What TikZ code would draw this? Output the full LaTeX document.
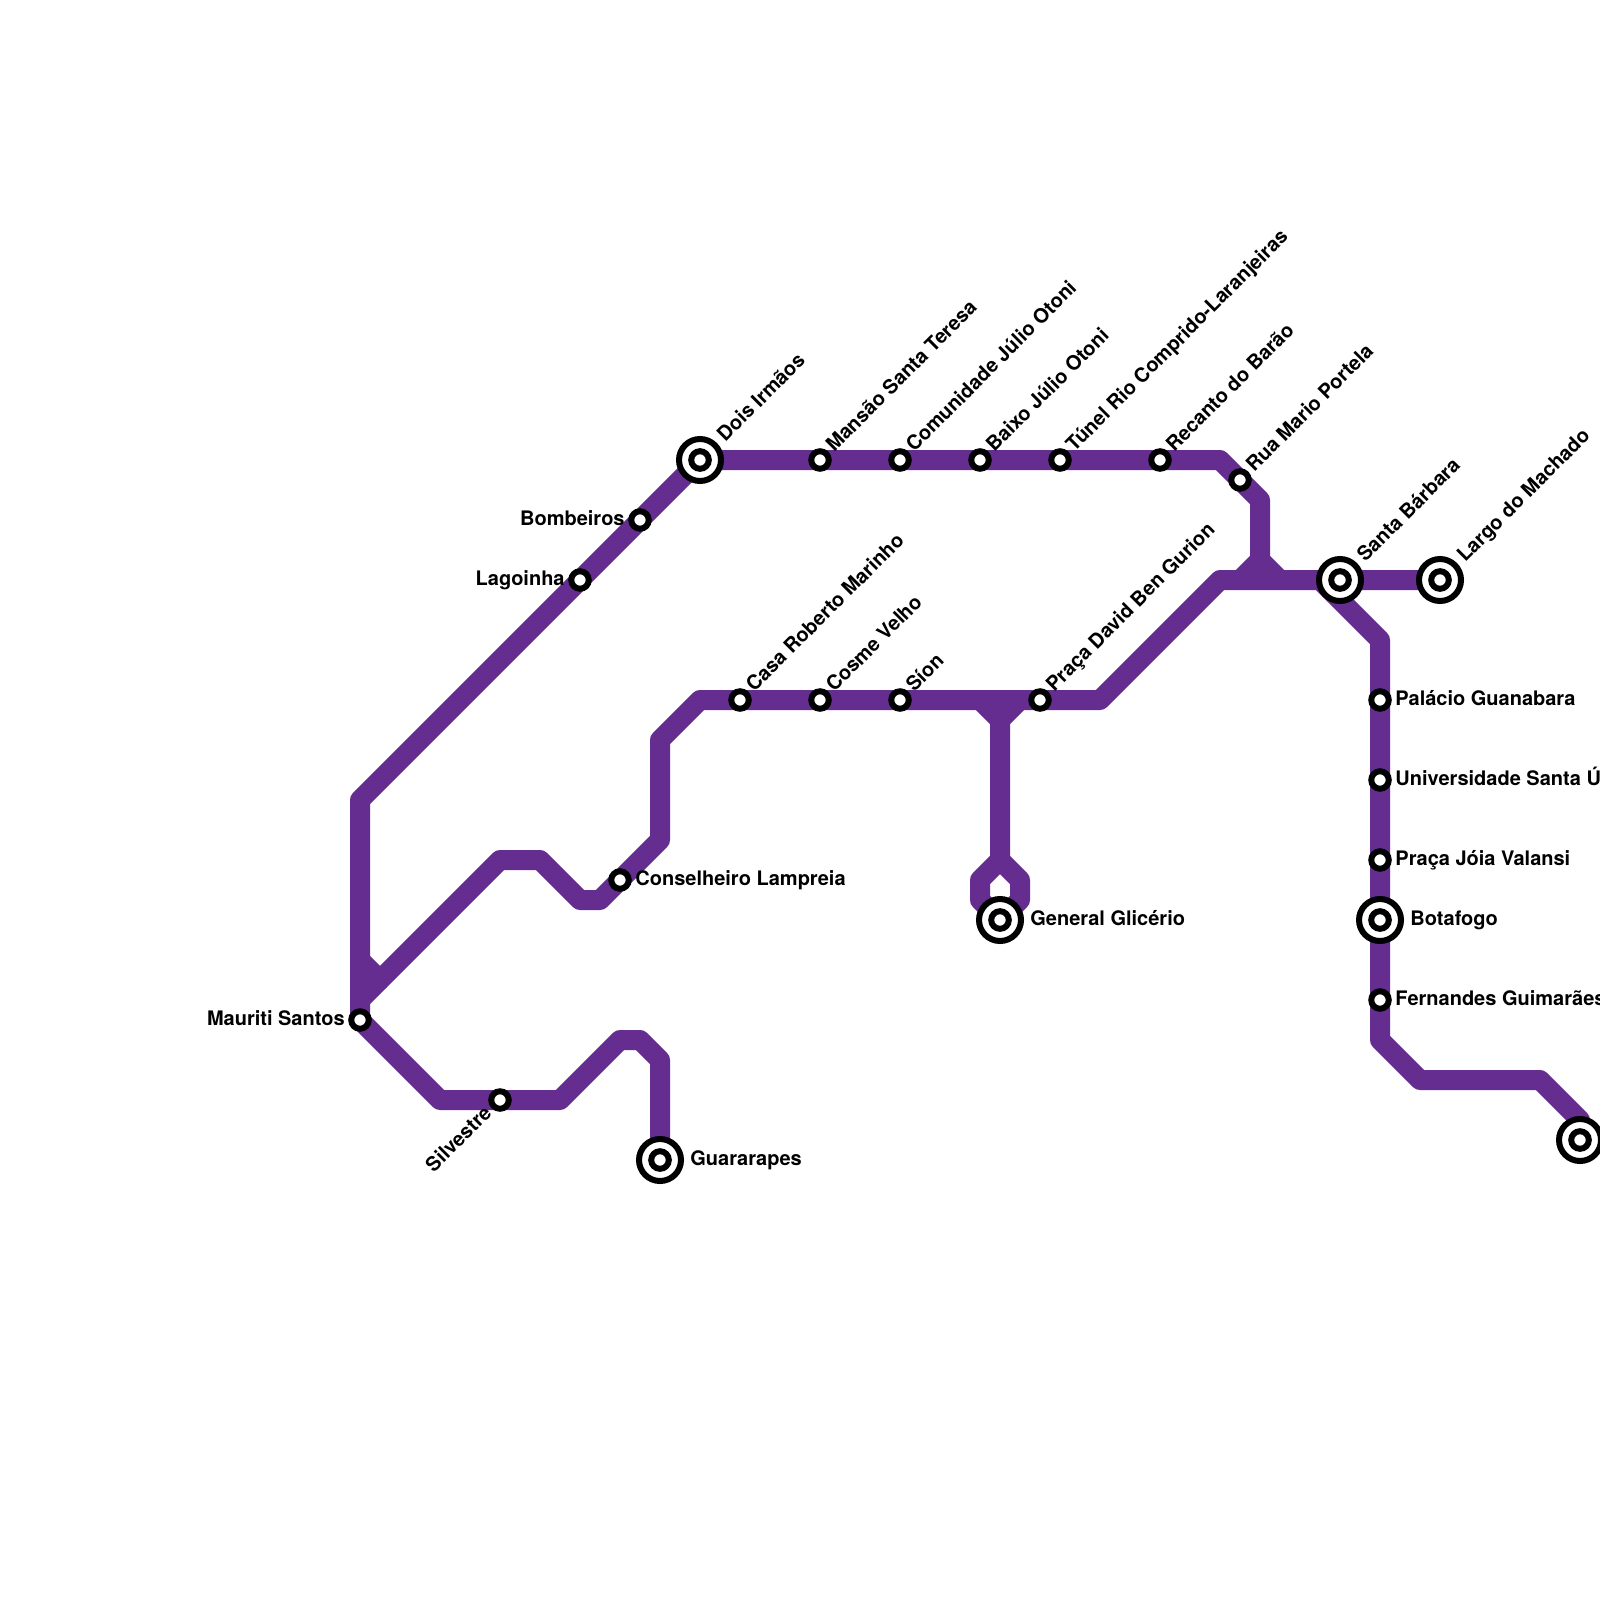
\documentclass[tikz,border=0pt]{standalone}
\usepackage{fontspec}
\setmainfont{TeX Gyre Heros}
\definecolor{linepurple}{HTML}{662D91}
\tikzset{
  x=0.5pt,y=-0.5pt,
  metro/.style={draw=linepurple,line width=10pt,line join=round,line cap=butt},
  stn/.style={circle,draw=black,fill=white,line width=3pt,inner sep=0pt,minimum size=8.75pt,outer sep=0pt},
  bigstn/.style={circle,draw=black,fill=white,line width=3pt,inner sep=0pt,minimum size=21pt,outer sep=0pt,
    path picture={\draw[black,line width=3pt] (path picture bounding box.center) circle (4.4pt);}},
  lab/.style={font=\bfseries\fontsize{10pt}{12pt}\selectfont,inner sep=0pt,text=black},
  labr/.style={lab,anchor=base west},
  labl/.style={lab,anchor=base east},
  labd/.style={lab,anchor=base west,rotate=45},
  labs/.style={lab,anchor=base east,rotate=45},
}
\begin{document}
\begin{tikzpicture}
\useasboundingbox (0,0) rectangle (1600,1600);
\clip (0,0) rectangle (1600,1600);
% stations as coordinates for the line paths
\coordinate (dois) at (700,460);
\coordinate (bomb) at (640,520);
\coordinate (lago) at (580,580);
\coordinate (mans) at (820,460);
\coordinate (comu) at (900,460);
\coordinate (baix) at (980,460);
\coordinate (tune) at (1060,460);
\coordinate (reca) at (1160,460);
\coordinate (ruam) at (1240,480);
\coordinate (sant) at (1340,580);
\coordinate (larg) at (1440,580);
\coordinate (pala) at (1380,700);
\coordinate (univ) at (1380,780);
\coordinate (joia) at (1380,860);
\coordinate (bota) at (1380,920);
\coordinate (fern) at (1380,1000);
\coordinate (last) at (1580,1140);
\coordinate (casa) at (740,700);
\coordinate (cosm) at (820,700);
\coordinate (sion) at (900,700);
\coordinate (prac) at (1040,700);
\coordinate (cons) at (620,880);
\coordinate (maur) at (360,1020);
\coordinate (silv) at (500,1100);
\coordinate (guar) at (660,1160);
\coordinate (gene) at (1000,920);
% bends
\coordinate (a1) at (360,800);
\coordinate (a2) at (360,960);
\coordinate (j1) at (380,980);
\coordinate (a3) at (500,860);
\coordinate (a4) at (540,860);
\coordinate (a5) at (580,900);
\coordinate (a6) at (600,900);
\coordinate (a7) at (660,840);
\coordinate (a8) at (660,740);
\coordinate (a9) at (700,700);
\coordinate (a10) at (1100,700);
\coordinate (a11) at (1220,580);
\coordinate (j2) at (1240,580);
\coordinate (j3) at (1280,580);
\coordinate (j4) at (1260,560);
\coordinate (b1) at (1220,460);
\coordinate (b2) at (1260,500);
\coordinate (c1) at (360,1000);
\coordinate (c2) at (440,1100);
\coordinate (c3) at (560,1100);
\coordinate (c4) at (620,1040);
\coordinate (c5) at (640,1040);
\coordinate (c6) at (660,1060);
\coordinate (d1) at (980,700);
\coordinate (d2) at (1020,700);
\coordinate (d3) at (1000,720);
\coordinate (d4) at (1000,860);
\coordinate (d5) at (980,880);
\coordinate (d6) at (980,900);
\coordinate (d7) at (1020,880);
\coordinate (d8) at (1020,900);
\coordinate (e1) at (1320,580);
\coordinate (e2) at (1380,640);
\coordinate (e3) at (1380,1040);
\coordinate (e4) at (1420,1080);
\coordinate (e5) at (1540,1080);
\coordinate (e6) at (1580,1120);
% lines
\draw[metro] (dois) -- (a1) -- (a2) -- (j1) -- (a3) -- (a4) -- (a5) -- (a6) -- (a7) -- (a8) -- (a9) -- (a10) -- (a11) -- (j3) -- (larg);
\draw[metro] (dois) -- (b1) -- (b2) -- (j4) -- (j3);
\draw[metro] (j4) -- (j2);
\draw[metro] (a2) -- (c1);
\draw[metro] (j1) -- (c1) -- (maur) -- (c2) -- (c3) -- (c4) -- (c5) -- (c6) -- (guar);
\draw[metro] (d1) -- (d3) -- (d2);
\draw[metro] (d3) -- (d4) -- (d5) -- (d6) -- (gene);
\draw[metro] (d4) -- (d7) -- (d8) -- (gene);
\draw[metro] (e1) -- (e2) -- (e3) -- (e4) -- (e5) -- (e6) -- (last);
% stations
\node[bigstn] (n-dois) at (dois) {};
\node[bigstn] (n-sant) at (sant) {};
\node[bigstn] (n-larg) at (larg) {};
\node[bigstn] (n-bota) at (bota) {};
\node[bigstn] (n-last) at (last) {};
\node[bigstn] (n-guar) at (guar) {};
\node[bigstn] (n-gene) at (gene) {};
\foreach \s in {bomb,lago,mans,comu,baix,tune,reca,ruam,pala,univ,joia,fern,casa,cosm,sion,prac,cons,maur,silv}
  \node[stn] (n-\s) at (\s) {};
% labels
\node[labd] (l-dois) at (725,443) {Dois Irmãos};
\node[labd] (l-mans) at (834,453) {Mansão Santa Teresa};
\node[labd] (l-comu) at (914,453) {Comunidade Júlio Otoni};
\node[labd] (l-baix) at (994,453) {Baixo Júlio Otoni};
\node[labd] (l-tune) at (1074,453) {Túnel Rio Comprido-Laranjeiras};
\node[labd] (l-reca) at (1174,453) {Recanto do Barão};
\node[labd] (l-ruam) at (1254,473) {Rua Mario Portela};
\node[labd] (l-sant) at (1365,563) {Santa Bárbara};
\node[labd] (l-larg) at (1465,563) {Largo do Machado};
\node[labd] (l-casa) at (754,693) {Casa Roberto Marinho};
\node[labd] (l-cosm) at (834,693) {Cosme Velho};
\node[labd] (l-sion) at (914,693) {Síon};
\node[labd] (l-prac) at (1054,693) {Praça David Ben Gurion};
\node[labr] (l-pala) at (1395,705) {Palácio Guanabara};
\node[labr] (l-univ) at (1395,785) {Universidade Santa Ú};
\node[labr] (l-joia) at (1395,865) {Praça Jóia Valansi};
\node[labr] (l-bota) at (1410,925) {Botafogo};
\node[labr] (l-fern) at (1395,1005) {Fernandes Guimarães};
\node[labr] (l-cons) at (635,885) {Conselheiro Lampreia};
\node[labr] (l-guar) at (690,1165) {Guararapes};
\node[labr] (l-gene) at (1030,925) {General Glicério};
\node[labl] (l-bomb) at (625,525) {Bombeiros};
\node[labl] (l-lago) at (565,585) {Lagoinha};
\node[labl] (l-maur) at (345,1025) {Mauriti Santos};
\node[labs] (l-silv) at (493,1114) {Silvestre};
\end{tikzpicture}
\end{document}
